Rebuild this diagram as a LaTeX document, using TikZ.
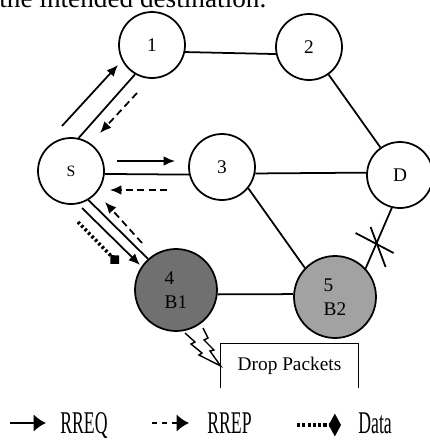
\documentclass[tikz,border=0pt]{standalone}
\usepackage{fontspec}
\setmainfont{Liberation Serif}
\usetikzlibrary{arrows.meta,calc}

\definecolor{bone}{RGB}{112,112,112}
\definecolor{btwo}{RGB}{162,162,162}

\tikzset{
  peer/.style={circle,draw,line width=1pt,minimum size=1.32cm,inner sep=0pt,font=\fontsize{11}{12}\selectfont},
  bad/.style={peer,minimum size=1.64cm,align=left,font=\fontsize{11}{13.6}\selectfont},
  link/.style={line width=1pt},
  rreq/.style={line width=1pt,-{Latex[length=6.5pt,width=5.5pt]}},
  rrep/.style={line width=1pt,dash pattern=on 4pt off 2.5pt,-{Latex[length=6.5pt,width=5.5pt]}},
  data/.style={line width=2pt,dash pattern=on 1.4pt off 1.4pt,-{Diamond[length=7pt,width=7pt]}},
  legtext/.style={font=\fontsize{18}{20}\selectfont,inner sep=0pt,anchor=base west}
}

\begin{document}
\begin{tikzpicture}[x=0.02cm,y=-0.02cm,>=Latex]
\useasboundingbox (0,0) rectangle (430,447);
\node[anchor=base west,inner sep=0pt,font=\fontsize{15.5}{18}\selectfont] (head) at (-1,7) {the intended destination.};

% nodes
\node[peer] (n1) at (152,45) {1};
\node[peer] (n2) at (309,47) {2};
\node[peer,font=\fontsize{9}{10}\selectfont] (S) at (71,171) {S};
\node[peer] (n3) at (222,167) {3};
\node[peer] (D) at (400,175) {D};
\node[bad,fill=bone] (n4) at (176,290) {4\\B1};
\node[bad,fill=btwo] (n5) at (335,297) {5\\B2};
\node[minimum width=2.74cm,minimum height=0.88cm,font=\fontsize{11}{12}\selectfont] (drop) at (289.5,366) {Drop Packets};

% links
\draw[link] (n1.-12) -- (n2.192);
\draw[link] (n2) -- (D);
\draw[link] (n1.-120) -- (S.77);
\draw[link] (S.-5) -- (n3.193);
\draw[link] (n3.-11) -- (D.176);
\draw[link] (n3.-39) -- (n5.136);
\draw[link] (S.-59) -- (n4.132);
\draw[link] (n4.-6) -- (n5.176);
\draw[link] (D.-104) -- (n5.43);

% broken link
\coordinate (cut) at ($(D.-104)!0.58!(n5.43)$);
\draw[link] (cut) +(-21,-10) -- +(17,10);
\draw[link] (cut) +(-6,-16) -- +(9,24);

% drop box and bolt
\draw[line width=0.9pt] (drop.south west) -- (drop.north west) -- (drop.north east) -- (drop.south east);
\draw[line width=0.8pt,fill=white] (185,333) -- (195,342) -- (191,344) -- (202,353) -- (199,355) -- (drop.west)
  -- (210,351) -- (214,350) -- (204,340) -- (208,338) -- (203,328);

% route messages
\coordinate (q1a) at (62,126);  \coordinate (q1b) at (118,65);
\coordinate (p1a) at (137,93);  \coordinate (p1b) at (100,133);
\coordinate (q3a) at (117,161); \coordinate (q3b) at (175,161);
\coordinate (p3a) at (167,190); \coordinate (p3b) at (110,190);
\coordinate (q4a) at (82,208);  \coordinate (q4b) at (140,265);
\coordinate (p4a) at (142,243); \coordinate (p4b) at (105,202);
\coordinate (d4a) at (78,222);  \coordinate (d4b) at (119,264);
\draw[rreq] (q1a) -- (q1b);
\draw[rrep] (p1a) -- (p1b);
\draw[rreq] (q3a) -- (q3b);
\draw[rrep] (p3a) -- (p3b);
\draw[rreq] (q4a) -- (q4b);
\draw[rrep] (p4a) -- (p4b);
\draw[data] (d4a) -- (d4b);

% legend
\coordinate (lq1) at (10,423);  \coordinate (lq2) at (46,423);
\coordinate (lp1) at (152,423); \coordinate (lp2) at (189,423);
\coordinate (ld1) at (297,425); \coordinate (ld2) at (341,425);
\draw[line width=1.7pt,-{Latex[length=7pt,width=10pt]}] (lq1) -- (lq2);
\draw[line width=1.7pt,dash pattern=on 3pt off 2.8pt,-{Latex[length=7pt,width=10pt]}] (lp1) -- (lp2);
\draw[line width=2.5pt,dash pattern=on 1.8pt off 1.2pt,-{Diamond[length=7pt,width=13pt]}] (ld1) -- (ld2);
\node[legtext] (lreq) at (60,433) {\scalebox{0.56}[1]{RREQ}};
\node[legtext] (lrep) at (207,433) {\scalebox{0.56}[1]{RREP}};
\node[legtext] (ldat) at (358,433) {\scalebox{0.56}[1]{Data}};
\end{tikzpicture}
\end{document}
